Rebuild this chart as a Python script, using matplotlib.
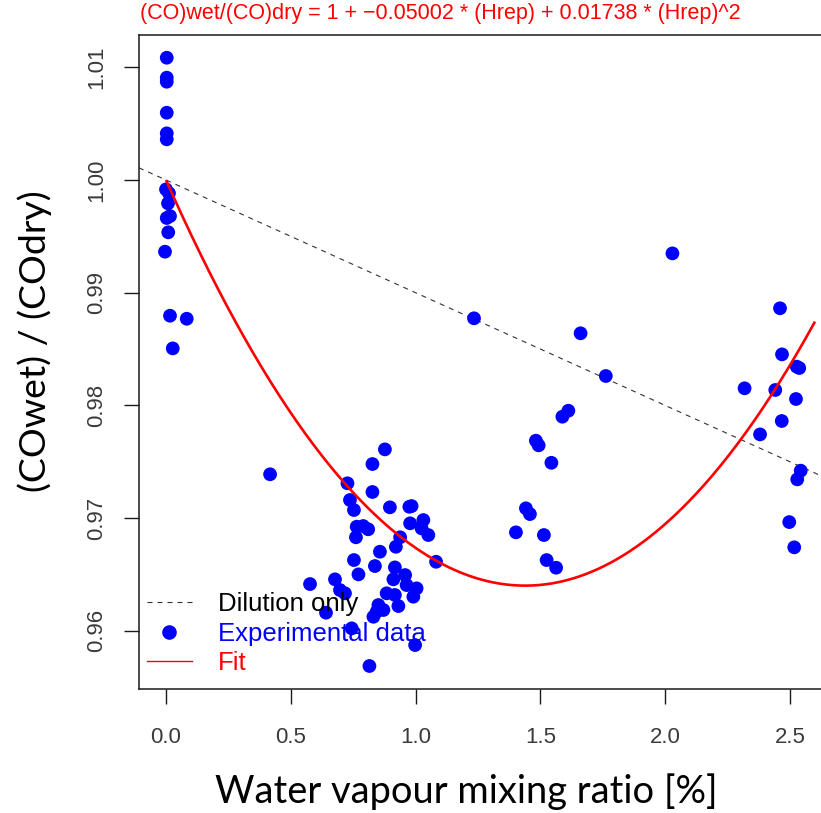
import numpy as np
import matplotlib
matplotlib.use("Agg")
import matplotlib.pyplot as plt
from matplotlib.lines import Line2D

plt.rcParams['font.family'] = ['Liberation Sans', 'DejaVu Sans']

# ---- data ----
water_vapour = [
    0.003, 0.003, 0.003, 0.003, 0.003, 0.003, 0.000, 0.012, 0.008, 0.003, 0.016,
    0.009, -0.004, 0.016, 0.083, 0.027,
    0.417, 0.877, 0.827, 0.727, 0.827, 0.737, 0.753, 0.897, 0.975, 0.984,
    0.764, 0.790, 0.810, 0.761, 0.978, 1.031, 1.024, 1.051, 0.938, 0.921,
    0.857, 1.082, 0.753, 0.837, 0.917, 0.771, 0.958, 0.911, 0.964, 1.004,
    0.991, 0.577, 0.677, 0.697, 0.717, 0.884, 0.917, 0.931, 0.851, 0.871,
    0.844, 0.831, 0.641, 0.744, 0.998, 0.815,
    1.234, 2.029, 1.661, 1.762, 1.612, 1.588, 1.482, 1.493, 1.544, 1.442,
    1.458, 1.402, 1.514, 1.525, 1.563, 2.460, 2.468, 2.527, 2.537, 2.318,
    2.441, 2.524, 2.467, 2.380, 2.543, 2.529, 2.497, 2.517,
]
co_ratio = [
    1.01085, 1.00908, 1.00872, 1.00597, 1.00414, 1.00361, 0.99917, 0.99882, 0.99793, 0.99663, 0.99680,
    0.99536, 0.99364, 0.98796, 0.98769, 0.98506,
    0.97389, 0.97610, 0.97480, 0.97309, 0.97232, 0.97161, 0.97072, 0.97096, 0.97101, 0.97107,
    0.96924, 0.96930, 0.96901, 0.96830, 0.96954, 0.96983, 0.96909, 0.96850, 0.96830, 0.96746,
    0.96702, 0.96613, 0.96628, 0.96575, 0.96563, 0.96501, 0.96495, 0.96457, 0.96406, 0.96377,
    0.96303, 0.96415, 0.96457, 0.96362, 0.96333, 0.96333, 0.96318, 0.96220, 0.96229, 0.96185,
    0.96170, 0.96125, 0.96161, 0.96022, 0.95874, 0.95688,
    0.98773, 0.99349, 0.98640, 0.98261, 0.97953, 0.97900, 0.97687, 0.97646, 0.97491, 0.97087,
    0.97036, 0.96874, 0.96850, 0.96628, 0.96560, 0.98862, 0.98453, 0.98344, 0.98332, 0.98152,
    0.98137, 0.98057, 0.97862, 0.97743, 0.97421, 0.97344, 0.96965, 0.96741,
]
fit_coef = [1.0, -0.05002, 0.01738]     # 1 + a*H + b*H^2
fit_range = [0.0, 2.6]
dilution_intercept = 1.0
dilution_slope = -0.01
x_ticks = [0.0, 0.5, 1.0, 1.5, 2.0, 2.5]
x_tick_labels = ["0.0", "0.5", "1.0", "1.5", "2.0", "2.5"]
y_ticks = [0.96, 0.97, 0.98, 0.99, 1.00, 1.01]
y_tick_labels = ["0.96", "0.97", "0.98", "0.99", "1.00", "1.01"]
legend_labels = ["Dilution only", "Experimental data", "Fit"]
title_text = "(CO)wet/(CO)dry = 1 + \u22120.05002 * (Hrep) + 0.01738 * (Hrep)^2"
x_label = "Water vapour mixing ratio [%]"
y_label = "(COwet) / (COdry)"

# ---- figure ----
W, H = 821, 813
fig = plt.figure(figsize=(W / 100, H / 100), dpi=100)
ax_l, ax_r, ax_t, ax_b = 139, 821, 35, 689
ax = fig.add_axes([ax_l / W, (H - ax_b) / H, (ax_r - ax_l) / W, (ax_b - ax_t) / H])
ax.set_xlim(-0.1082, 2.6242)
ax.set_ylim(0.95484, 1.012866)

BLUE = "#0000ff"
RED = "#ff0000"

ax.axline((0, dilution_intercept), slope=dilution_slope, color="#333333",
          lw=0.8, ls=(0, (4.5, 4.5)), zorder=2)
ax.scatter(water_vapour, co_ratio, s=98, color=BLUE, edgecolors="none", zorder=3)
hx = np.linspace(fit_range[0], fit_range[1], 300)
hy = fit_coef[0] + fit_coef[1] * hx + fit_coef[2] * hx ** 2
ax.plot(hx, hy, color=RED, lw=1.9, zorder=4, solid_capstyle="butt")

ax.set_xticks(x_ticks)
ax.set_xticklabels(x_tick_labels)
ax.set_yticks(y_ticks)
ax.set_yticklabels(y_tick_labels, rotation=90, va="center")

for s in ["left", "bottom", "top"]:
    ax.spines[s].set_linewidth(1.1)
    ax.spines[s].set_color("#1a1a1a")
ax.spines["right"].set_visible(False)
ax.tick_params(axis="both", direction="out", length=11, width=1.0, color="#1a1a1a",
               labelsize=16, labelcolor="#3a3a3a")
ax.tick_params(axis="x", pad=16)
ax.tick_params(axis="y", pad=12)

handles = [
    Line2D([], [], color="#333333", lw=0.8, ls=(0, (4.5, 4.5))),
    Line2D([], [], marker="o", ls="none", color=BLUE, markersize=10.5, markeredgewidth=0),
    Line2D([], [], color=RED, lw=1.0),
]
leg = ax.legend(handles, legend_labels, loc="lower left", frameon=False,
                fontsize=18.5, handlelength=1.75, handletextpad=1.0, labelspacing=0.22,
                borderpad=0, borderaxespad=0, bbox_to_anchor=(0.0117, 0.021))
for t, c in zip(leg.get_texts(), ["black", BLUE, RED]):
    t.set_color(c)

title = fig.text(140 / W, 1 - 14 / H, title_text, color=RED, fontsize=14,
                 ha="left", va="center")
xl = fig.text(215 / W, (H - 803) / H, x_label, family=["Lato", "DejaVu Sans"],
              fontsize=30, ha="left", va="baseline", color="black")
yl = fig.text(35 / W, 1 - 341 / H, y_label, family=["Lato", "DejaVu Sans"],
              fontsize=30, rotation=90, ha="center", va="center", color="black")

# fit text sizes to the measured extents of the reference
fig.canvas.draw()
r = fig.canvas.get_renderer()
def fit(t, target, horizontal=True):
    bb = t.get_window_extent(renderer=r)
    cur = bb.width if horizontal else bb.height
    t.set_fontsize(t.get_fontsize() * target / cur)
fit(title, 604)
fit(xl, 503)
fit(yl, 302, horizontal=False)

fig.savefig("out.png", dpi=100)
